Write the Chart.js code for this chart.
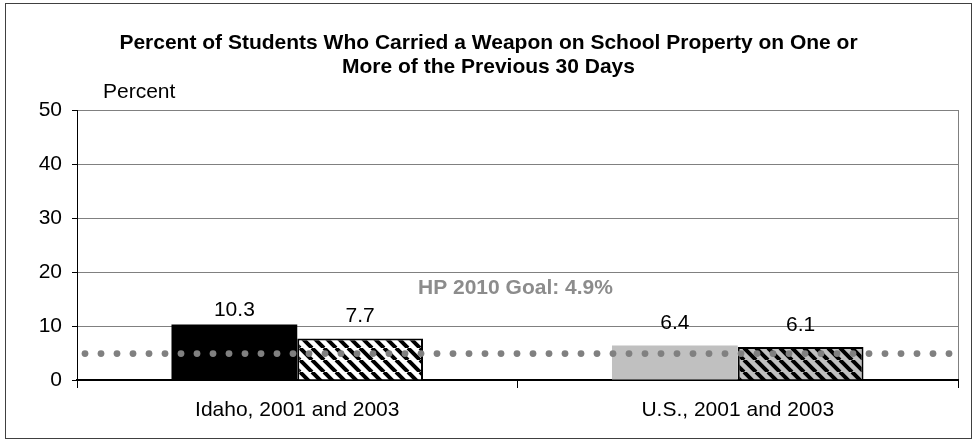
<!DOCTYPE html>
<html>
<head>
<meta charset="utf-8">
<script src="https://cdn.jsdelivr.net/npm/chart.js"></script>
<style>
  html, body { margin: 0; padding: 0; background: #ffffff; }
  #wrap { width: 977px; height: 440px; position: relative; }
</style>
</head>
<body>
<div id="wrap"><canvas id="weaponChart"></canvas></div>
<script>
// Chart data
const categories = ['Idaho, 2001 and 2003', 'U.S., 2001 and 2003'];
const values2001 = [10.3, 6.4];
const values2003 = [7.7, 6.1];
const yTicks = [0, 10, 20, 30, 40, 50];
const goalValue = 4.9;
const goalLabel = 'HP 2010 Goal: 4.9%';
const titleLines = [
    'Percent of Students Who Carried a Weapon on School Property on One or',
    'More of the Previous 30 Days'
];
const yAxisLabel = 'Percent';

const FONT = "'Liberation Sans', Arial, sans-serif";
Chart.defaults.font.family = FONT;
Chart.defaults.font.size = 21;
Chart.defaults.color = '#000000';

// diagonal hatch fill, like the excel pattern
function makeHatch(bg) {
    const s = 12;
    const c = document.createElement('canvas');
    c.width = s; c.height = s;
    const g = c.getContext('2d');
    g.fillStyle = bg;
    g.fillRect(0, 0, s, s);
    g.strokeStyle = '#000000';
    g.lineWidth = 4;
    g.beginPath();
    [-s, 0, s].forEach(x0 => {
        g.moveTo(x0, 0);
        g.lineTo(x0 + s, s);
    });
    g.stroke();
    return g.createPattern(c, 'repeat');
}

// outer frame + right side of plot area
const frame = {
    id: 'frame',
    beforeDraw(chart) {
        const { ctx, chartArea: a } = chart;
        ctx.save();
        ctx.fillStyle = '#ffffff';
        ctx.fillRect(0, 0, chart.width, chart.height);
        ctx.strokeStyle = '#404040';
        ctx.lineWidth = 1;
        ctx.strokeRect(5.5, 3.5, 966, 435);
        ctx.strokeStyle = '#808080';
        ctx.beginPath();
        ctx.moveTo(Math.round(a.right) + 0.5, a.top);
        ctx.lineTo(Math.round(a.right) + 0.5, a.bottom);
        ctx.stroke();
        // "Percent" over the axis
        ctx.fillStyle = '#000000';
        ctx.font = '21px ' + FONT;
        ctx.textBaseline = 'middle';
        ctx.fillText(yAxisLabel, a.left + 26, a.top - 18);
        ctx.restore();
    }
};

// value labels, dotted goal line and its caption
const overlays = {
    id: 'overlays',
    afterDatasetsDraw(chart) {
        const { ctx, chartArea: a, scales: { y } } = chart;
        ctx.save();
        ctx.font = '21px ' + FONT;
        ctx.fillStyle = '#000000';
        ctx.textAlign = 'center';
        ctx.textBaseline = 'middle';
        chart.data.datasets.forEach((ds, i) => {
            chart.getDatasetMeta(i).data.forEach((bar, j) => {
                const off = bar.base - bar.y > 45 ? 14 : 22;
                ctx.fillText(ds.data[j].toFixed(1), bar.x, bar.y - off);
            });
        });

        const gy = y.getPixelForValue(goalValue);
        ctx.fillStyle = '#808080';
        for (let x = a.left + 8; x < a.right; x += 16) {
            ctx.beginPath();
            ctx.arc(x, gy, 3.4, 0, Math.PI * 2);
            ctx.fill();
        }
        ctx.fillStyle = '#8c8c8c';
        ctx.font = 'bold 21px ' + FONT;
        ctx.textAlign = 'left';
        ctx.fillText(goalLabel, a.left + 341, gy - 65);
        ctx.restore();
    }
};

const ctx = document.getElementById('weaponChart').getContext('2d');
const weaponChart = new Chart(ctx, {
    type: 'bar',
    data: {
        labels: categories,
        datasets: [{
            label: '2001',
            data: values2001,
            backgroundColor: ['#000000', '#c0c0c0'],
            borderWidth: 0
        }, {
            label: '2003',
            data: values2003,
            backgroundColor: [makeHatch('#ffffff'), makeHatch('#c0c0c0')],
            borderColor: '#000000',
            borderWidth: 2
        }]
    },
    options: {
        responsive: true,
        maintainAspectRatio: false,
        animation: false,
        categoryPercentage: 0.571,
        barPercentage: 1,
        // symmetric padding keeps the title centred on the page
        layout: { padding: { left: 19, right: 19, top: 0, bottom: 0 } },
        plugins: {
            legend: { display: false },
            tooltip: { enabled: false },
            title: {
                display: true,
                text: titleLines,
                color: '#000000',
                font: { size: 21, weight: 'bold', lineHeight: 1.15 },
                padding: { top: 31, bottom: 30.7 }
            }
        },
        scales: {
            x: {
                grid: {
                    drawOnChartArea: false,
                    offset: true,
                    tickLength: 8,
                    tickColor: '#000000'
                },
                border: { color: '#000000', width: 2 },
                ticks: { padding: 10, color: '#000000' },
                afterFit: s => { s.height = 60; }
            },
            y: {
                min: 0,
                max: 50,
                afterBuildTicks: s => { s.ticks = yTicks.map(v => ({ value: v })); },
                grid: {
                    color: c => (c.tick && c.tick.value === 0) ? '#000000' : '#808080',
                    tickLength: 5,
                    tickColor: '#000000'
                },
                border: { color: '#000000', width: 1 },
                ticks: { padding: 10, color: '#000000' },
                afterFit: s => { s.width = 58; }
            }
        }
    },
    plugins: [frame, overlays]
});
</script>
</body>
</html>
